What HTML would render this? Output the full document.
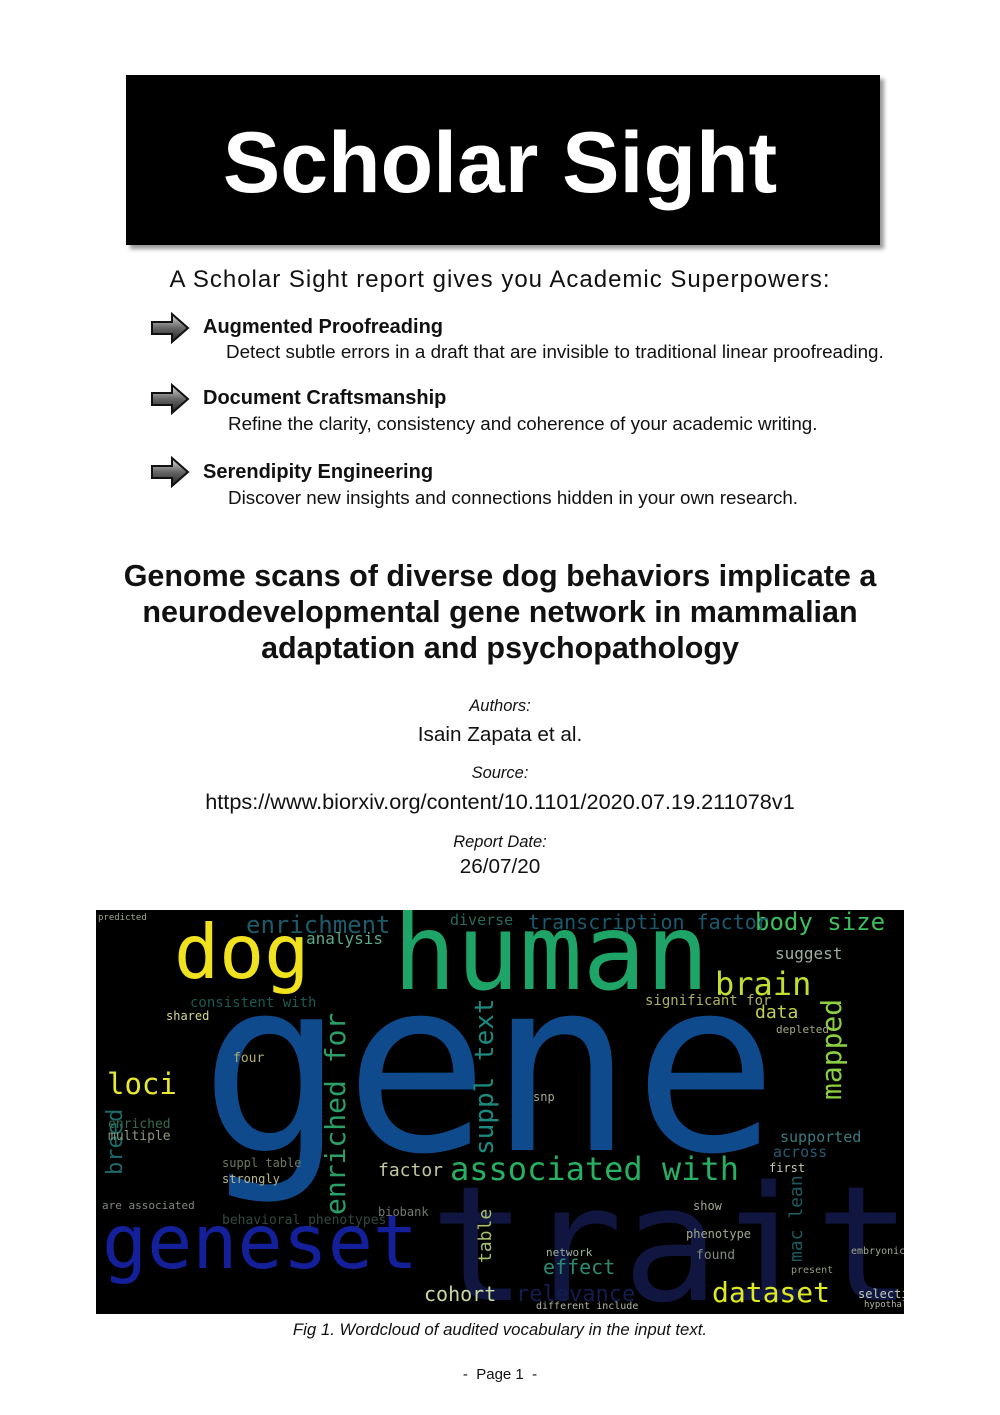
<!DOCTYPE html>
<html><head><meta charset="utf-8"><style>
html,body{margin:0;padding:0;background:#fff;}
body{width:1000px;height:1415px;position:relative;overflow:hidden;font-family:"Liberation Sans","DejaVu Sans",sans-serif;color:#111;}
.a{position:absolute;white-space:nowrap;}
.c{position:absolute;left:0;width:1000px;text-align:center;white-space:nowrap;}
.w{position:absolute;white-space:nowrap;font-family:"DejaVu Sans Mono","Liberation Mono",monospace;line-height:1;}
.v{transform-origin:0 0;transform:rotate(-90deg);}
</style></head><body>
<div class="a" style="left:126px;top:75px;width:754px;height:170px;background:#000;box-shadow:4px 4px 4px #999;"></div>
<div class="c" style="top:114px;font-size:86px;font-weight:bold;color:#fff;">Scholar Sight</div>
<div class="c" style="top:266px;font-size:24px;letter-spacing:1px;">A Scholar Sight report gives you Academic Superpowers:</div>

<svg class="a" style="left:150px;top:312px" width="40" height="32" viewBox="0 0 40 32"><defs><linearGradient id="g" x1="0" y1="0" x2="0" y2="1"><stop offset="0" stop-color="#ddd"/><stop offset="0.5" stop-color="#666"/><stop offset="1" stop-color="#222"/></linearGradient></defs><path d="M2 10 H22 V2 L38 16 L22 30 V22 H2 Z" fill="url(#g)" stroke="#111" stroke-width="2"/></svg>
<svg class="a" style="left:150px;top:383px" width="40" height="32" viewBox="0 0 40 32"><path d="M2 10 H22 V2 L38 16 L22 30 V22 H2 Z" fill="url(#g)" stroke="#111" stroke-width="2"/></svg>
<svg class="a" style="left:150px;top:456px" width="40" height="32" viewBox="0 0 40 32"><path d="M2 10 H22 V2 L38 16 L22 30 V22 H2 Z" fill="url(#g)" stroke="#111" stroke-width="2"/></svg>

<div class="a" style="left:203px;top:316px;font-size:20px;font-weight:bold;">Augmented Proofreading</div>
<div class="a" style="left:226px;top:341px;font-size:18.8px;">Detect subtle errors in a draft that are invisible to traditional linear proofreading.</div>
<div class="a" style="left:203px;top:387px;font-size:20px;font-weight:bold;">Document Craftsmanship</div>
<div class="a" style="left:228px;top:413px;font-size:18.8px;">Refine the clarity, consistency and coherence of your academic writing.</div>
<div class="a" style="left:203px;top:461px;font-size:20px;font-weight:bold;">Serendipity Engineering</div>
<div class="a" style="left:228px;top:487px;font-size:18.8px;">Discover new insights and connections hidden in your own research.</div>

<div class="c" style="top:558px;font-size:30.5px;font-weight:bold;line-height:36px;">Genome scans of diverse dog behaviors implicate a<br>neurodevelopmental gene network in mammalian<br>adaptation and psychopathology</div>
<div class="c" style="top:697px;font-size:16.5px;font-style:italic;">Authors:</div>
<div class="c" style="top:723px;font-size:20.7px;">Isain Zapata et al.</div>
<div class="c" style="top:764px;font-size:16.5px;font-style:italic;">Source:</div>
<div class="c" style="top:789px;font-size:21.7px;">https://www.biorxiv.org/content/10.1101/2020.07.19.211078v1</div>
<div class="c" style="top:833px;font-size:16.5px;font-style:italic;">Report Date:</div>
<div class="c" style="top:855px;font-size:20.7px;">26/07/20</div>

<div class="a" style="left:96px;top:910px;width:808px;height:404px;background:#000;overflow:hidden;">
<div class="w" style="left:334px;top:255px;font-size:160px;color:#10163f;">trait</div>
<div class="w" style="left:104px;top:37px;font-size:240px;color:#0f4a8c;">gene</div>
<div class="w" style="left:297px;top:-9px;font-size:105px;color:#1fa468;">human</div>
<div class="w" style="left:78px;top:5px;font-size:75px;color:#f0e21e;">dog</div>
<div class="w" style="left:6px;top:295px;font-size:75px;color:#14209a;">geneset</div>
<div class="w" style="left:354px;top:243px;font-size:32px;color:#27b062;">associated with</div>
<div class="w" style="left:616px;top:369px;font-size:28px;color:#dfe920;">dataset</div>
<div class="w" style="left:619px;top:58px;font-size:32px;color:#c2de2e;">brain</div>
<div class="w" style="left:659px;top:0px;font-size:24px;color:#3cbf5c;">body size</div>
<div class="w" style="left:11px;top:160px;font-size:29px;color:#e8e830;">loci</div>
<div class="w v" style="left:722px;top:190px;font-size:28px;color:#8cd040;">mapped</div>
<div class="w v" style="left:226px;top:305px;font-size:28px;color:#2aa068;">enriched for</div>
<div class="w v" style="left:376px;top:245px;font-size:26px;color:#1d8a80;">suppl text</div>
<div class="w v" style="left:9px;top:265px;font-size:22px;color:#1c6a6a;">breed</div>
<div class="w v" style="left:381px;top:353px;font-size:18px;color:#a8c070;">table</div>
<div class="w v" style="left:692px;top:352px;font-size:18px;color:#1d5a60;">mac lean</div>
<div class="w" style="left:150px;top:3px;font-size:24px;color:#1d5a6a;">enrichment</div>
<div class="w" style="left:432px;top:2px;font-size:20px;color:#1b5a6e;">transcription factor</div>
<div class="w" style="left:354px;top:3px;font-size:15px;color:#2a6a5a;">diverse</div>
<div class="w" style="left:210px;top:21px;font-size:16px;color:#5aaa90;">analysis</div>
<div class="w" style="left:679px;top:36px;font-size:16px;color:#9ab0a0;">suggest</div>
<div class="w" style="left:659px;top:94px;font-size:18px;color:#c0d050;">data</div>
<div class="w" style="left:549px;top:84px;font-size:14px;color:#b0b060;">significant for</div>
<div class="w" style="left:282px;top:252px;font-size:18px;color:#c0c8a0;">factor</div>
<div class="w" style="left:328px;top:374px;font-size:20px;color:#c8d8a0;">cohort</div>
<div class="w" style="left:447px;top:347px;font-size:20px;color:#2a8a70;">effect</div>
<div class="w" style="left:684px;top:220px;font-size:15px;color:#3a7a80;">supported</div>
<div class="w" style="left:677px;top:235px;font-size:15px;color:#2a5a70;">across</div>
<div class="w" style="left:94px;top:86px;font-size:14px;color:#1a5a50;">consistent with</div>
<div class="w" style="left:70px;top:100px;font-size:12px;color:#d8d890;">shared</div>
<div class="w" style="left:137px;top:142px;font-size:13px;color:#b0b070;">four</div>
<div class="w" style="left:12px;top:208px;font-size:13px;color:#3a6a50;">enriched</div>
<div class="w" style="left:12px;top:220px;font-size:13px;color:#8a9a80;">multiple</div>
<div class="w" style="left:126px;top:263px;font-size:12px;color:#b8b890;">strongly</div>
<div class="w" style="left:126px;top:247px;font-size:12px;color:#707860;">suppl table</div>
<div class="w" style="left:6px;top:290px;font-size:11px;color:#808880;">are associated</div>
<div class="w" style="left:126px;top:304px;font-size:13px;color:#304a40;">behavioral phenotypes</div>
<div class="w" style="left:282px;top:296px;font-size:12px;color:#707870;">biobank</div>
<div class="w" style="left:437px;top:181px;font-size:12px;color:#a0a890;">snp</div>
<div class="w" style="left:680px;top:114px;font-size:11px;color:#a0a880;">depleted</div>
<div class="w" style="left:673px;top:252px;font-size:12px;color:#c8c8b0;">first</div>
<div class="w" style="left:597px;top:290px;font-size:12px;color:#a0a890;">show</div>
<div class="w" style="left:590px;top:318px;font-size:12px;color:#a0a890;">phenotype</div>
<div class="w" style="left:600px;top:339px;font-size:13px;color:#808880;">found</div>
<div class="w" style="left:450px;top:337px;font-size:11px;color:#a0b0a0;">network</div>
<div class="w" style="left:762px;top:378px;font-size:12px;color:#c0d0c0;">selection</div>
<div class="w" style="left:768px;top:391px;font-size:9px;color:#b0b8a0;">hypothalamic</div>
<div class="w" style="left:440px;top:392px;font-size:10px;color:#b0b8a0;">different include</div>
<div class="w" style="left:420px;top:374px;font-size:22px;color:#141c50;">relevance</div>
<div class="w" style="left:2px;top:4px;font-size:9px;color:#a0a890;">predicted</div>
<div class="w" style="left:755px;top:337px;font-size:10px;color:#a0a890;">embryonic</div>
<div class="w" style="left:695px;top:356px;font-size:10px;color:#909880;">present</div>
</div>

<div class="c" style="top:1320px;font-size:16.8px;font-style:italic;">Fig 1. Wordcloud of audited vocabulary in the input text.</div>
<div class="c" style="top:1366px;font-size:15px;">-&nbsp; Page 1 &nbsp;-</div>
</body></html>
